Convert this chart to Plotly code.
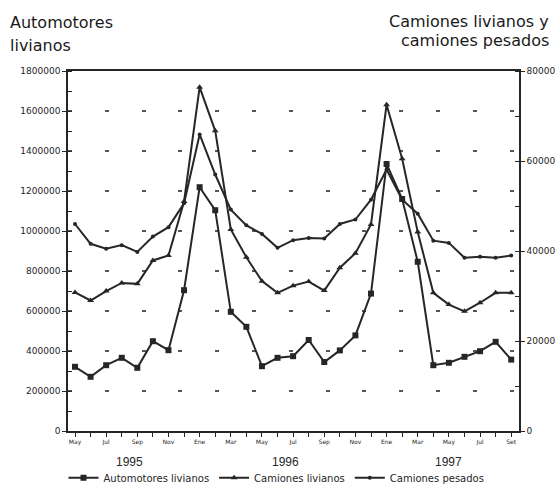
import plotly.graph_objects as go

# ---- data ----
months = ["May", "Jun", "Jul", "Ago", "Sep", "Oct", "Nov", "Dic",
          "Ene", "Feb", "Mar", "Abr", "May", "Jun", "Jul", "Ago", "Sep", "Oct", "Nov", "Dic",
          "Ene", "Feb", "Mar", "Abr", "May", "Jun", "Jul", "Ago", "Set"]
tick_labels = ["May", "Jul", "Sep", "Nov", "Ene", "Mar", "May", "Jul",
               "Sep", "Nov", "Ene", "Mar", "May", "Jul", "Set"]
years = ["1995", "1996", "1997"]
left_title = ["Automotores", "livianos"]
right_title = ["Camiones livianos y", "camiones pesados"]

automotores_livianos = [321000, 271000, 329000, 366000, 316000, 449000, 404000, 704000,
                        1219000, 1104000, 596000, 521000, 324000, 366000, 374000, 455000,
                        345000, 403000, 478000, 687000, 1335000, 1160000, 846000, 329000,
                        341000, 371000, 399000, 446000, 357000]
camiones_livianos = [30800, 29000, 31100, 32900, 32700, 37900, 39000, 51000,
                     76400, 66700, 44800, 38600, 33300, 30700, 32300, 33200,
                     31200, 36300, 39500, 45900, 72500, 60500, 44200, 30700,
                     28100, 26600, 28500, 30700, 30700]
camiones_pesados = [46000, 41600, 40500, 41300, 39800, 43200, 45300, 50600,
                    65900, 57000, 49200, 45700, 43800, 40700, 42400, 42900,
                    42800, 46000, 47000, 51400, 58100, 51400, 48300, 42300,
                    41800, 38500, 38700, 38500, 39000]

x = list(range(len(months)))

# year centres derived from where each January falls
starts = [0] + [i for i, m in enumerate(months) if m == "Ene"]
ends = [i - 1 for i in starts[1:]] + [len(months) - 1]
year_centers = [(a + b) / 2 for a, b in zip(starts, ends)]

INK = "#262626"
TITLE_INK = "#1a1a1a"
FONT = "Liberation Sans, Arial, sans-serif"
WIDE = "DejaVu Sans, sans-serif"

fig = go.Figure()
fig.add_trace(go.Scatter(
    x=x, y=automotores_livianos, name="Automotores livianos", yaxis="y",
    mode="lines+markers", line=dict(color=INK, width=2),
    marker=dict(symbol="square", size=6, color=INK)))
fig.add_trace(go.Scatter(
    x=x, y=camiones_livianos, name="Camiones livianos", yaxis="y2",
    mode="lines+markers", line=dict(color=INK, width=2),
    marker=dict(symbol="triangle-up", size=6, color=INK)))
fig.add_trace(go.Scatter(
    x=x, y=camiones_pesados, name="Camiones pesados", yaxis="y2",
    mode="lines+markers", line=dict(color=INK, width=2),
    marker=dict(symbol="circle", size=4, color=INK)))

axis_common = dict(linecolor=INK, linewidth=1.5, tickcolor=INK, zeroline=False,
                   automargin=False)

fig.update_layout(
    width=557, height=484,
    margin=dict(l=68, r=38, t=71, b=53, autoexpand=False),
    paper_bgcolor="white", plot_bgcolor="white",
    font=dict(family=FONT, color=INK),
    showlegend=True,
    legend=dict(orientation="h", x=-0.01, xanchor="left", y=-0.13, yanchor="middle",
                font=dict(size=10, family=WIDE, color=INK), itemwidth=30,
                tracegroupgap=0, bgcolor="rgba(0,0,0,0)"),
    xaxis=dict(range=[-0.45, 28.5], tickvals=x[::2], ticktext=tick_labels,
               ticks="outside", ticklen=4, showgrid=False, showline=True, mirror=True,
               tickfont=dict(size=6, family=WIDE, color=INK),
               minor=dict(dtick=1, tick0=0, ticks="outside", ticklen=4, tickcolor=INK),
               **axis_common),
    yaxis=dict(range=[0, 1800000], dtick=200000, tickformat="d", ticks="outside", ticklen=4,
               showline=True, showgrid=True, gridcolor="#555555", gridwidth=1.5,
               griddash="4px,32.8px",
               tickfont=dict(size=9, family=WIDE, color=INK),
               minor=dict(dtick=100000, ticks="inside", ticklen=4, tickcolor=INK),
               **axis_common),
    yaxis2=dict(range=[0, 80000], dtick=20000, tickformat="d", overlaying="y", side="right",
                ticks="outside", ticklen=4, showline=True, showgrid=False,
                tickfont=dict(size=9, family=WIDE, color=INK),
                minor=dict(dtick=10000, ticks="inside", ticklen=4, tickcolor=INK),
                **axis_common),
)

for txt, yy in zip(left_title, [1.1667, 1.1028]):
    fig.add_annotation(text=txt, xref="paper", yref="paper",
                       x=-0.133, y=yy, xanchor="left", yanchor="top", align="left",
                       showarrow=False, font=dict(size=16, family=WIDE, color=TITLE_INK))
for txt, yy in zip(right_title, [1.1694, 1.1167]):
    fig.add_annotation(text=txt, xref="paper", yref="paper",
                       x=1.071, y=yy, xanchor="right", yanchor="top", align="right",
                       showarrow=False, font=dict(size=16, family=WIDE, color=TITLE_INK))
for yr, cx in zip(years, year_centers):
    fig.add_annotation(text=yr, x=cx, xref="x", y=-0.086, yref="paper",
                       yanchor="middle", showarrow=False,
                       font=dict(size=12, family=FONT, color=INK))

fig.write_html("out.html", config={"displayModeBar": False},
               post_script="document.body.style.margin='0';")
